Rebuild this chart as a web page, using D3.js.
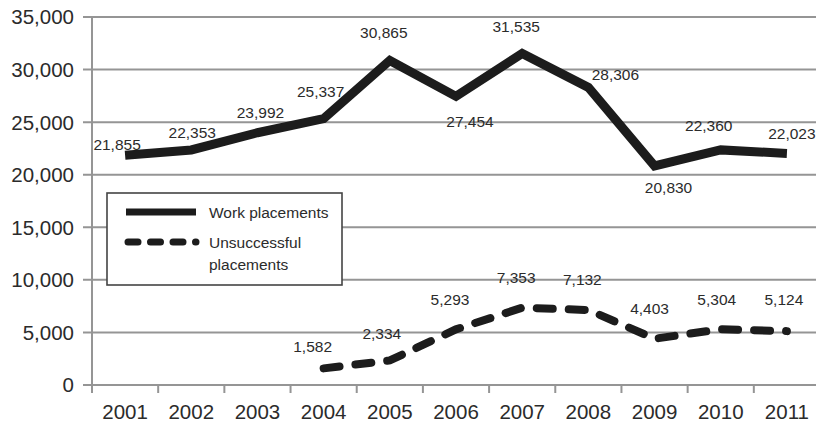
<!DOCTYPE html>
<html>
<head>
<meta charset="utf-8">
<script src="https://cdn.jsdelivr.net/npm/d3@7"></script>
<style>
  html, body { margin: 0; padding: 0; background: #fff; }
  svg { display: block; }
  text { font-family: "Liberation Sans", Arial, sans-serif; fill: #2b2b2b; }
</style>
</head>
<body>
<svg id="chart" width="816" height="424"></svg>
<script>
// Years on the x axis
const years = ["2001", "2002", "2003", "2004", "2005", "2006", "2007", "2008", "2009", "2010", "2011"];

// Work placements, 2001-2011
const workPlacements = [21855, 22353, 23992, 25337, 30865, 27454, 31535, 28306, 20830, 22360, 22023];

// Unsuccessful placements, recorded from 2004
const unsuccessfulYears = ["2004", "2005", "2006", "2007", "2008", "2009", "2010", "2011"];
const unsuccessfulPlacements = [1582, 2334, 5293, 7353, 7132, 4403, 5304, 5124];

// Y axis ticks
const yTicks = [0, 5000, 10000, 15000, 20000, 25000, 30000, 35000];

// Value label nudges [dx, dy] from each point (label centre x, baseline y)
const workLabelNudge = [[-8, -5], [1, -12], [3, -15], [-3, -22], [-6, -22], [14, 31], [-6, -21], [27, -7], [14, 27], [-12, -19], [5, -14]];
const unsuccessfulLabelNudge = [[-11, -16], [-8, -21], [-6, -24], [-6, -25], [-6, -25], [-5, -25], [-4, -24], [-3, -26]];

const svg = d3.select("#chart");
const fmt = d3.format(",");
const grid = "#959595";
const ink = "#1c1c1c";

const x = d3.scaleBand().domain(years).range([92, 820]);
const y = d3.scaleLinear().domain([0, 35000]).range([385, 17]);
const cx = d => x(d) + x.bandwidth() / 2;

// Horizontal gridlines with short ticks left of the axis
svg.append("g").selectAll("line").data(yTicks).join("line")
  .attr("x1", 83).attr("x2", 816)
  .attr("y1", d => y(d)).attr("y2", d => y(d))
  .attr("stroke", grid).attr("stroke-width", 2);

// Y axis labels
svg.append("g").selectAll("text").data(yTicks).join("text")
  .attr("x", 74).attr("y", d => y(d))
  .attr("dy", "0.36em")
  .attr("text-anchor", "end")
  .style("font-size", "20.5px")
  .text(d => fmt(d));

// Y axis line
svg.append("line")
  .attr("x1", 92).attr("x2", 92).attr("y1", y(35000) - 1).attr("y2", 393)
  .attr("stroke", grid).attr("stroke-width", 2);

// X axis ticks at band boundaries
const bounds = years.map(d => x(d)).concat([x.range()[1]]);
svg.append("g").selectAll("line").data(bounds).join("line")
  .attr("x1", d => d).attr("x2", d => d)
  .attr("y1", 385).attr("y2", 393)
  .attr("stroke", grid).attr("stroke-width", 2);

// X axis labels
svg.append("g").selectAll("text").data(years).join("text")
  .attr("x", d => cx(d)).attr("y", 419)
  .attr("text-anchor", "middle")
  .style("font-size", "20.5px")
  .text(d => d);

// Legend box
const legend = svg.append("g");
legend.append("rect")
  .attr("x", 107).attr("y", 193).attr("width", 235).attr("height", 92)
  .attr("fill", "#fff").attr("stroke", "#444").attr("stroke-width", 1.6);

// Lines
const line = d3.line().x(d => cx(d[0])).y(d => y(d[1]));

svg.append("path")
  .datum(years.map((d, i) => [d, workPlacements[i]]))
  .attr("d", line)
  .attr("fill", "none").attr("stroke", ink)
  .attr("stroke-width", 9).attr("stroke-linejoin", "miter");

svg.append("path")
  .datum(unsuccessfulYears.map((d, i) => [d, unsuccessfulPlacements[i]]))
  .attr("d", line)
  .attr("fill", "none").attr("stroke", ink)
  .attr("stroke-width", 8).attr("stroke-linecap", "round")
  .attr("stroke-dasharray", "16 16");

// Value labels
function placeLabels(keys, vals, nudge) {
  svg.append("g").selectAll("text").data(vals).join("text")
    .attr("x", (d, i) => cx(keys[i]) + nudge[i][0])
    .attr("y", (d, i) => y(d) + nudge[i][1])
    .attr("text-anchor", "middle")
    .style("font-size", "15.5px")
    .text(d => fmt(d));
}
placeLabels(years, workPlacements, workLabelNudge);
placeLabels(unsuccessfulYears, unsuccessfulPlacements, unsuccessfulLabelNudge);

// Legend entries
legend.append("line")
  .attr("x1", 126).attr("x2", 196).attr("y1", 212).attr("y2", 212)
  .attr("stroke", ink).attr("stroke-width", 7);
legend.append("line")
  .attr("x1", 128).attr("x2", 196).attr("y1", 242).attr("y2", 242)
  .attr("stroke", ink).attr("stroke-width", 7)
  .attr("stroke-linecap", "round").attr("stroke-dasharray", "10 12.5");
legend.append("text").attr("x", 209).attr("y", 218).style("font-size", "15.5px").text("Work placements");
legend.append("text").attr("x", 209).attr("y", 248).style("font-size", "15.5px").text("Unsuccessful");
legend.append("text").attr("x", 209).attr("y", 270).style("font-size", "15.5px").text("placements");
</script>
</body>
</html>
